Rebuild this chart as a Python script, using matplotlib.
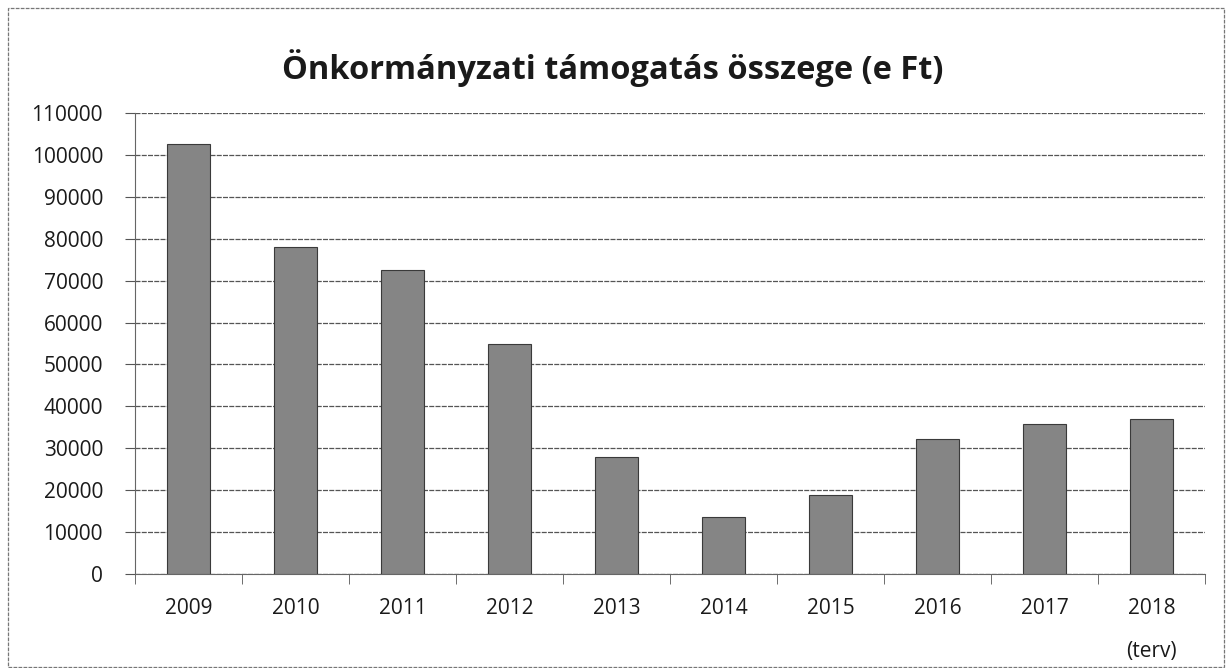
import matplotlib
matplotlib.use("Agg")
import matplotlib.pyplot as plt
from matplotlib.patches import Rectangle

categories = ["2009", "2010", "2011", "2012", "2013", "2014", "2015", "2016", "2017", "2018\n(terv)"]
values = [102600, 78000, 72600, 55000, 27800, 13500, 18800, 32300, 35700, 36900]
yticks = list(range(0, 110001, 10000))
title = "Önkormányzati támogatás összege (e Ft)"

plt.rcParams['font.family'] = ['Open Sans', 'DejaVu Sans']

fig = plt.figure(figsize=(12.26, 6.68), dpi=100)
ax = fig.add_axes([135/1226, 1 - 574/668, 1070/1226, (574 - 113)/668])

x = list(range(len(categories)))
ax.bar(x, values, width=0.4, color="#858585", edgecolor="#3a3a3a", linewidth=0.8, zorder=3)

ax.set_xlim(-0.5, 9.5)
ax.set_ylim(0, 110000)
ax.set_yticks(yticks)
ax.set_yticklabels([str(v) for v in yticks], fontsize=15, color="#1a1a1a")
ax.yaxis.grid(True, color="#555555", linewidth=0.9, linestyle=(0, (4, 1)), zorder=0)
ax.set_axisbelow(True)

ax.set_xticks(x)
ax.set_xticklabels(categories, fontsize=15, va="top", linespacing=2.4, color="#1a1a1a")
ax.tick_params(axis="x", length=0, pad=17)
ax.set_xticks([i + 0.5 for i in range(-1, 10)], minor=True)
ax.tick_params(axis="x", which="minor", length=7, color="#555555", direction="out")
ax.tick_params(axis="y", length=7, color="#555555", direction="out", pad=16)

for s in ["top", "right"]:
    ax.spines[s].set_visible(False)
ax.spines["left"].set_color("#666666")
ax.spines["bottom"].set_color("#666666")

fig.text(0.5, 1 - 68/668, title, ha="center", va="center", fontsize=23.5, fontweight="bold", color="#1a1a1a")

border = Rectangle((8/1226, 0.002), 1 - 8/1226 - 0.002, 1 - 8/668 - 0.002, transform=fig.transFigure,
                   fill=False, edgecolor="#777777", linewidth=0.9, linestyle=(0, (3, 1)))
fig.patches.append(border)

fig.savefig("out.png", dpi=100)
